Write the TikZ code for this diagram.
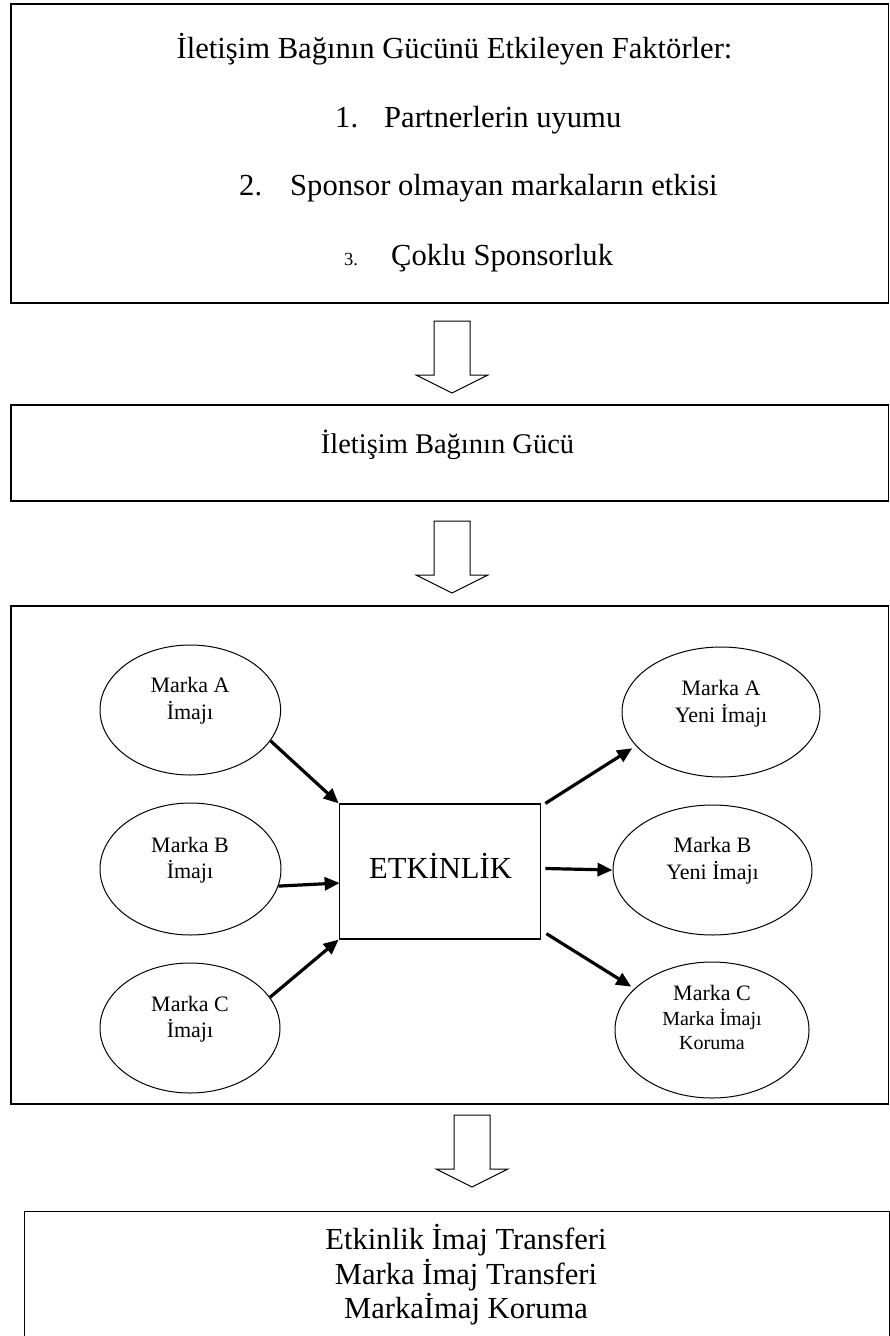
\documentclass[tikz,border=0pt]{standalone}
\usepackage{fontspec}
\setmainfont{Liberation Serif}
\usetikzlibrary{arrows.meta,shapes.geometric,calc}
\begin{document}
\begin{tikzpicture}[x=1pt,y=-1pt,
  frame/.style={draw=black, line width=1.2pt, inner sep=0pt, rectangle},
  big/.style={font=\fontsize{30.6}{35}\selectfont, inner sep=0pt, anchor=base},
  mid/.style={font=\fontsize{28.5}{33}\selectfont, inner sep=0pt, anchor=base},
  small/.style={font=\fontsize{22}{26}\selectfont, inner sep=0pt, anchor=base},
  smaller/.style={font=\fontsize{20}{24}\selectfont, inner sep=0pt, anchor=base},
  oval/.style={draw=black, ellipse, line width=1pt, inner sep=0pt},
  flow/.style={line width=3.2pt, -{Triangle[length=15pt,width=13pt]}},
  hollow/.style={draw=black, line width=1pt, fill=white, line join=miter},
  pics/downarrow/.style={code={
    \draw[hollow] (-18,0) -- (18,0) -- (18,54) -- (36,54) -- (0,72)
      -- (-36,54) -- (-18,54) -- cycle;}}]

\useasboundingbox (0,0) rectangle (890,1336);
\clip (0,0) rectangle (890,1336);
\fill[white] (0,0) rectangle (890,1336);

% factors box
\node[frame, minimum width=877.5pt, minimum height=299pt] (factors) at (449.75,153.5) {};
\node[big] (title) at (454.5,58) {İletişim Bağının Gücünü Etkileyen Faktörler:};
\node[big, anchor=base west] (num1) at (335,127) {1.};
\node[big, anchor=base west] (item1) at (384,127) {Partnerlerin uyumu};
\node[big, anchor=base west] (num2) at (239,195) {2.};
\node[big, anchor=base west] (item2) at (290,195) {Sponsor olmayan markaların etkisi};
\node[big, anchor=base west, font=\fontsize{18.5}{20}\selectfont] (num3) at (344,265) {3.};
\node[big, anchor=base west] (item3) at (391,265) {Çoklu Sponsorluk};

\pic at (452,321) {downarrow};

% strength box
\node[frame, minimum width=877.5pt, minimum height=96pt] (strength) at (449.75,453) {};
\node[mid] (strengthtext) at (447.5,453) {İletişim Bağının Gücü};

\pic at (452,521) {downarrow};

% event box
\node[frame, minimum width=877.5pt, minimum height=498pt] (eventbox) at (449.75,855) {};

\node[frame, minimum width=201.5pt, minimum height=135pt] (event) at (440,871.5) {};
\node[big] (eventtext) at (440.5,878) {ETKİNLİK};

% brand images before the event
\node[oval, minimum width=180.6pt, minimum height=130pt] (A) at (190.3,710) {};
\node[small] (Aa) at (190,692.7) {Marka A};
\node[small] (Ab) at (190,719) {İmajı};

\node[oval, minimum width=181pt, minimum height=132pt] (B) at (190.5,869) {};
\node[small] (Ba) at (190,852) {Marka B};
\node[small] (Bb) at (190,878) {İmajı};

\node[oval, minimum width=180pt, minimum height=130pt] (C) at (190,1028) {};
\node[small] (Ca) at (190,1011) {Marka C};
\node[small] (Cb) at (190,1037) {İmajı};

% brand images after the event
\node[oval, minimum width=198pt, minimum height=130pt] (A2) at (721,712) {};
\node[small] (A2a) at (721,695) {Marka A};
\node[small] (A2b) at (721,722) {Yeni İmajı};

\node[oval, minimum width=199pt, minimum height=130pt] (B2) at (712.5,870) {};
\node[small] (B2a) at (712.5,852) {Marka B};
\node[small] (B2b) at (712.5,879) {Yeni İmajı};

\node[oval, minimum width=194pt, minimum height=136pt] (C2) at (712,1030) {};
\node[small] (C2a) at (712,1000) {Marka C};
\node[smaller] (C2b) at (712,1025) {Marka İmajı};
\node[smaller] (C2c) at (712,1049) {Koruma};

% connectors into and out of the event
\draw[flow] (A.-21) -- (event.north west);
\draw[flow] (B.-11) -- ($(event.west)+(1,11.5)$);
\draw[flow] (C.21) -- (event.south west);
\draw[flow] ($(event.north east)+(4,0)$) -- ($(A2.202)+(-4,2)$);
\draw[flow] ($(event.east)+(4,-3)$) -- (B2.west);
\draw[flow] ($(event.south east)+(5,-6)$) -- ($(C2.152)+(-3,-2)$);

\pic at (472,1115) {downarrow};

% transfer box
\node[frame, anchor=north west, minimum width=864.5pt, minimum height=140pt] (transfer) at (24,1211) {};
\node[big] (tr1) at (466,1249) {Etkinlik İmaj Transferi};
\node[big] (tr2) at (466,1284) {Marka İmaj Transferi};
\node[big] (tr3) at (466,1318) {Markaİmaj Koruma};
\end{tikzpicture}
\end{document}
